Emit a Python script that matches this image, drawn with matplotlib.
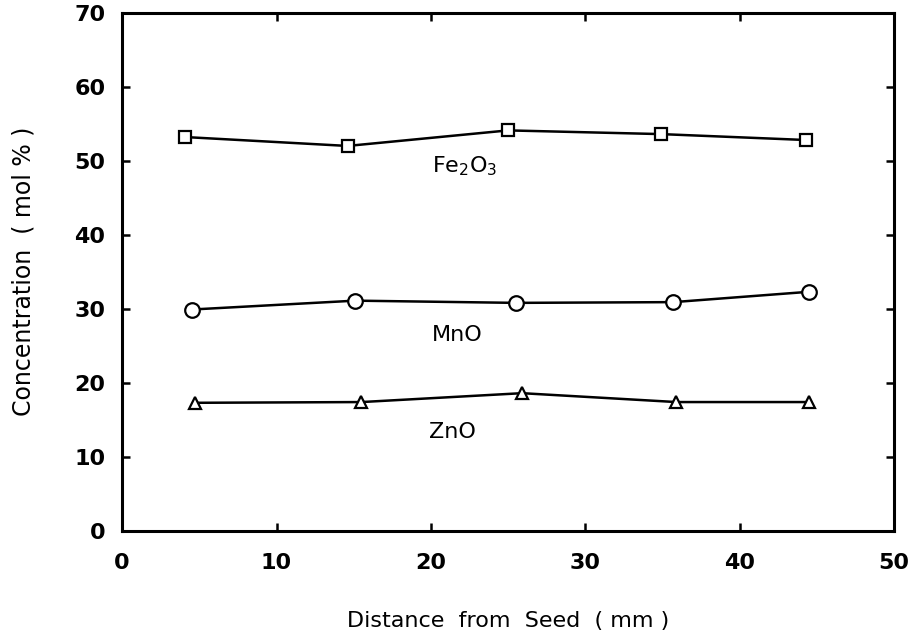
import numpy as np
import matplotlib
matplotlib.use("Agg")
import matplotlib.pyplot as plt

plt.rcParams['font.family'] = ['DejaVu Sans']

# distancias (mm) y concentraciones (mol %)
x_fe = [4.1, 14.6, 25.0, 34.9, 44.3]
fe2o3 = [53.2, 52.0, 54.1, 53.6, 52.8]

x_mn = [4.5, 15.1, 25.5, 35.7, 44.5]
mno = [29.9, 31.1, 30.8, 30.9, 32.3]

x_zn = [4.7, 15.5, 25.9, 35.9, 44.5]
zno = [17.3, 17.4, 18.6, 17.4, 17.4]

xticks = [0, 10, 20, 30, 40, 50]
yticks = [0, 10, 20, 30, 40, 50, 60, 70]

fig = plt.figure(figsize=(9.18, 6.35), dpi=100)
ax = fig.add_axes([0.133, 0.164, 0.841, 0.816])

lw = 1.8
ax.plot(x_fe, fe2o3, color='black', lw=lw, marker='s', ms=8,
        mfc='white', mec='black', mew=1.6)
ax.plot(x_mn, mno, color='black', lw=lw, marker='o', ms=10.5,
        mfc='white', mec='black', mew=1.6)
ax.plot(x_zn, zno, color='black', lw=lw, marker='^', ms=8.5,
        mfc='white', mec='black', mew=1.6)

fs = 16
ax.text(22.2, 49.2, r'Fe$_2$O$_3$', fontsize=fs, ha='center', va='center')
ax.text(21.7, 26.5, 'MnO', fontsize=fs, ha='center', va='center')
ax.text(21.4, 13.4, 'ZnO', fontsize=fs, ha='center', va='center')

ax.set_xlim(0, 50)
ax.set_ylim(0, 70)
ax.set_xticks(xticks)
ax.set_yticks(yticks)
ax.tick_params(direction='in', length=6, width=1.8, top=True, right=True,
               labelsize=fs)
ax.tick_params(axis='x', pad=16)
ax.tick_params(axis='y', pad=12)
for lab in ax.get_xticklabels() + ax.get_yticklabels():
    lab.set_fontweight('bold')
for s in ax.spines.values():
    s.set_linewidth(2.2)

ax.set_xlabel('Distance  from  Seed  ( mm )', fontsize=fs, labelpad=27)
ax.set_ylabel('Concentration  ( mol % )', fontsize=17, labelpad=28)

fig.savefig('out.png', dpi=100)
